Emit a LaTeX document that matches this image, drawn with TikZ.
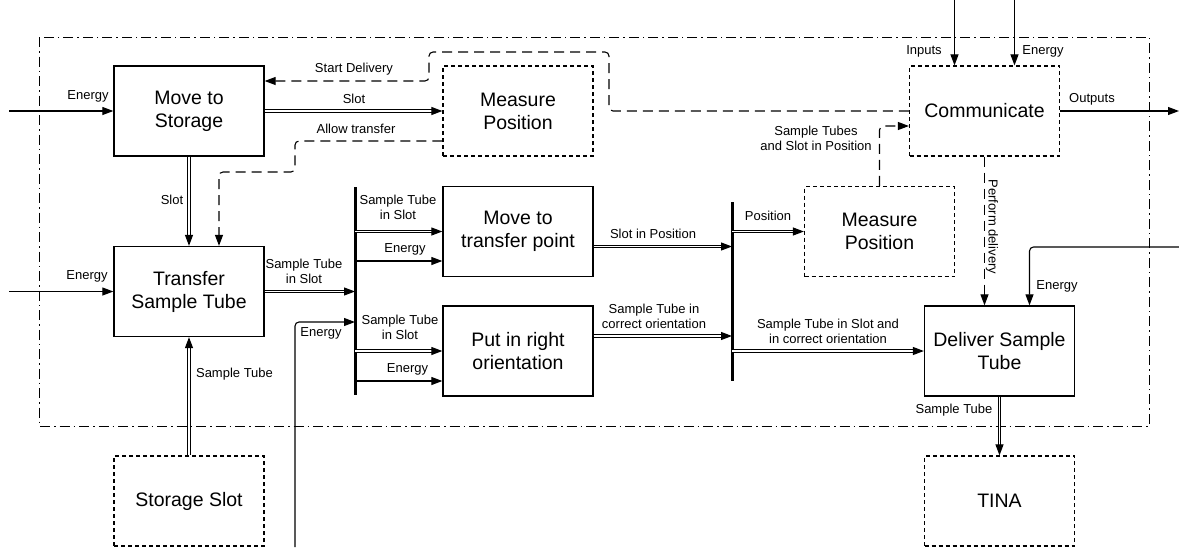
\documentclass[tikz,border=0pt]{standalone}
\usepackage{fontspec}
\setmainfont{Liberation Sans}
\usetikzlibrary{arrows.meta}
\begin{document}
\begin{tikzpicture}[x=1pt,y=-1pt,
  box/.style={draw, line width=1.3pt, minimum width=150pt, minimum height=90pt, inner sep=0pt, align=center, font=\fontsize{19.5}{23}\selectfont},
  dbox/.style={box, line width=1.2pt, dash pattern=on 4pt off 3pt},
  lbl/.style={font=\fontsize{13}{15.3}\selectfont, align=center, inner sep=0pt},
  flow/.style={line width=1.1pt, -{Triangle[length=11pt,width=8pt]}},
  dflow/.style={double, double distance=1.5pt, line width=1.1pt, -{Triangle[length=11pt,width=8pt]}},
  ctrl/.style={flow, dash pattern=on 10pt off 6pt, rounded corners=4pt},
  bar/.style={line width=3pt},
  frame/.style={line width=0.9pt, dash pattern=on 10pt off 4pt on 1.5pt off 4pt}]
\useasboundingbox (0,0) rectangle (1179,547);
\draw[frame] (39,37) rectangle (1149,426);

% boxes
\node[box]  (mts)  at (189,111) {Move to\\Storage};
\node[dbox] (mp1)  at (518,111) {Measure\\Position};
\node[dbox] (comm) at (984.5,111) {Communicate};
\node[box]  (tst)  at (189,291.5) {Transfer\\Sample Tube};
\node[dbox] (ss)   at (189,501) {Storage Slot};
\node[box]  (mtp)  at (518,231.5) {Move to\\transfer point};
\node[box]  (pro)  at (518,351) {Put in right\\orientation};
\node[dbox] (mp2)  at (879.5,231.5) {Measure\\Position};
\node[box]  (dst)  at (999.5,351) {Deliver Sample\\Tube};
\node[dbox] (tina) at (999.5,501) {TINA};

% bars
\coordinate (bl1) at (355,187);
\coordinate (bl2) at (355,395);
\coordinate (br1) at (732,202);
\coordinate (br2) at (732,381);
\draw[bar] (bl1) -- (bl2);
\draw[bar] (br1) -- (br2);

% free ends
\coordinate (e1) at (9,111);
\coordinate (e2) at (9,291.5);
\coordinate (e3) at (295,547);
\coordinate (e4) at (1179,247);
\coordinate (in1) at (954.5,0);
\coordinate (in2) at (1014.5,0);
\coordinate (out) at (1179,111);

% connectors
\draw[flow] (e1) -- (mts.west);
\draw[dflow] (mts.east) -- (mp1.west);
\draw[ctrl] (comm.west) -| (609,52) -| (429,81) -- ([yshift=30pt]mts.east);
\draw[ctrl] ([yshift=-30pt]mp1.west) -| (295,172) -| ([xshift=30pt]tst.north);
\draw[dflow] (mts.south) -- (tst.north);
\draw[flow] (e2) -- (tst.west);
\draw[dflow] (ss.north) -- (tst.south);
\draw[dflow] (tst.east) -- (bl1 |- tst.east);
\draw[flow, rounded corners=4pt] (e3) |- (bl1 |- 0,322);
\draw[dflow] (bl1 |- mtp.west) -- (mtp.west);
\draw[flow] (bl1 |- 0,261) -- (mtp.west |- 0,261);
\draw[dflow] (bl1 |- pro.west) -- (pro.west);
\draw[flow] (bl1 |- 0,381) -- (pro.west |- 0,381);
\draw[dflow] ([yshift=-15pt]mtp.east) -- (br1 |- 0,246.5);
\draw[dflow] ([yshift=15pt]pro.east) -- (br1 |- 0,336);
\draw[dflow] (br1 |- mp2.west) -- (mp2.west);
\draw[dflow] (br1 |- dst.west) -- (dst.west);
\draw[ctrl] (mp2.north) |- ([yshift=-15pt]comm.west);
\draw[ctrl] (comm.south) -- (comm.south |- dst.north);
\draw[flow, rounded corners=4pt] (e4) -| ([xshift=30pt]dst.north);
\draw[dflow] (dst.south) -- (tina.north);
\draw[flow] (in1) -- (comm.north -| in1);
\draw[flow] (in2) -- (comm.north -| in2);
\draw[flow] (comm.east) -- (out);

% labels
\node[lbl] (l1) at (88,96) {Energy};
\node[lbl] (l2) at (354,69) {Start Delivery};
\node[lbl] (l3) at (354,99) {Slot};
\node[lbl] (l4) at (356,129) {Allow transfer};
\node[lbl] (l5) at (172,200) {Slot};
\node[lbl] (l6) at (87,276) {Energy};
\node[lbl] (l7) at (304,271) {Sample Tube\\in Slot};
\node[lbl] (l8) at (321,333) {Energy};
\node[lbl] (l9) at (398,207) {Sample Tube\\in Slot};
\node[lbl] (l10) at (405,249) {Energy};
\node[lbl] (l11) at (400,327) {Sample Tube\\in Slot};
\node[lbl] (l12) at (407.5,369) {Energy};
\node[lbl] (l13) at (653,234) {Slot in Position};
\node[lbl] (l14) at (654,316) {Sample Tube in\\correct orientation};
\node[lbl] (l15) at (768,216) {Position};
\node[lbl] (l16) at (828,331) {Sample Tube in Slot and\\in correct orientation};
\node[lbl] (l17) at (816,138) {Sample Tubes\\and Slot in Position};
\node[lbl, rotate=-90] (l18) at (992,227) {Perform delivery};
\node[lbl] (l19) at (1057,286) {Energy};
\node[lbl] (l20) at (954,410) {Sample Tube};
\node[lbl] (l21) at (234.5,374) {Sample Tube};
\node[lbl] (l22) at (924,51) {Inputs};
\node[lbl] (l23) at (1043,51) {Energy};
\node[lbl] (l24) at (1092,99) {Outputs};
\end{tikzpicture}
\end{document}
